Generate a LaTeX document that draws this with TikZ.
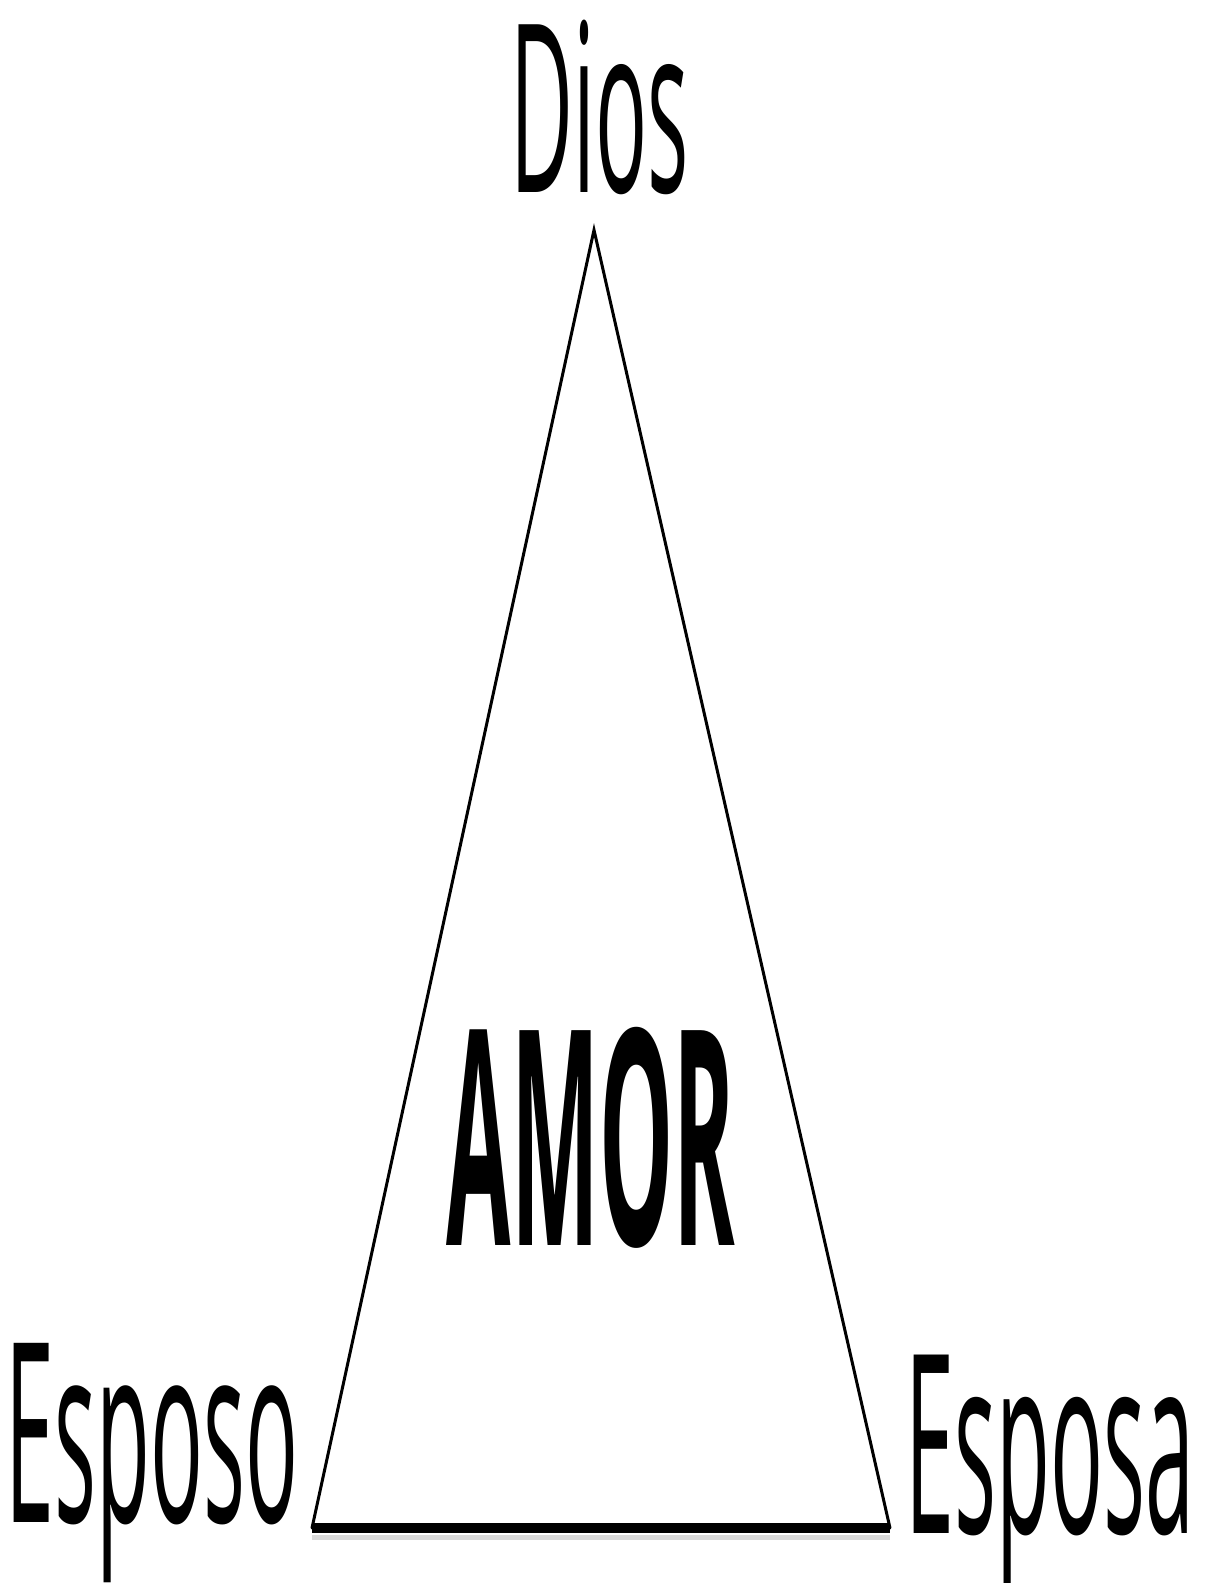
\documentclass[tikz,border=0pt]{standalone}
\usepackage{fontspec}
\setmainfont{Open Sans}
\begin{document}
\begin{tikzpicture}[x=1pt,y=-1pt,
  lbl/.style={inner sep=0pt,anchor=base,text=black},
  side/.style={line width=3pt,line cap=round},
  basel/.style={line width=10pt}]
\useasboundingbox[fill=white] (0,0) rectangle (1209,1583);
\coordinate (apex) at (594,230);
\coordinate (bl) at (312,1528);
\coordinate (br) at (890,1528);
\draw[side] (bl) -- (apex) -- (br);
\draw[line width=5pt,black!15] ([yshift=-9pt]bl) -- ([yshift=-9pt]br);
\draw[basel] (bl) -- (br);
\node[lbl,xscale=0.368,font=\fontsize{235}{235}\selectfont] (dios) at (600,192) {Dios};
\node[lbl,xscale=0.35,font=\fontsize{251}{251}\selectfont] (esposo) at (152,1522) {Esposo};
\node[lbl,xscale=0.352,font=\fontsize{250}{250}\selectfont] (esposa) at (1050,1533) {Esposa};
\node[lbl,xscale=0.31,font=\bfseries\fontsize{301}{301}\selectfont] (amor) at (591,1245) {AMOR};
\end{tikzpicture}
\end{document}
